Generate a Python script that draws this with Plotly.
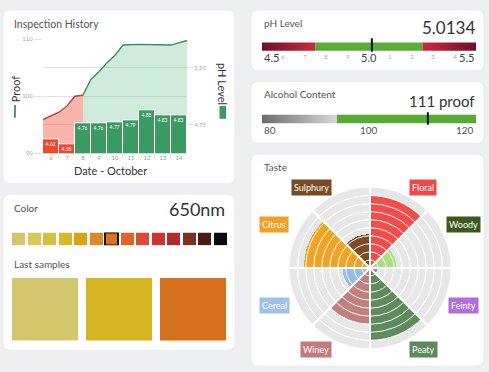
import plotly.graph_objects as go

W, H = 489, 372
FONT = "Lato"
BG = "#eeeff1"

# ---------------- data ----------------
days = [6, 7, 8, 9, 10, 11, 12, 13, 14]
ph_values = [4.62, 4.58, 4.76, 4.76, 4.77, 4.79, 4.88, 4.83, 4.83]
proof_days = [5.5, 6.0, 6.5, 7.0, 7.5, 8.0, 8.5, 9.0, 9.5, 10.0, 10.5, 11.5, 12.5, 13.5, 14.5]
proof_values = [95.9, 96.6, 97.2, 98.3, 100.0, 100.2, 103.0, 104.3, 105.9, 107.2, 109.0, 109.1, 109.0, 109.0, 109.8]
proof_ticks = [90, 100, 110]
ph_ticks = [4.75, 5.25]
ph_ok = [4.75, 5.25]
proof_ok_day = 8

ph_current = 5.0134
ph_scale = [4.5, 5.5]
ph_major = [4.5, 5.0, 5.5]
ph_minor = [4.6, 4.7, 4.8, 4.9, 5.1, 5.2, 5.3, 5.4]
ph_minor_text = ["6", "7", "8", "9", "1", "2", "3", "4"]

alc_current = 111
alc_scale = [80, 120]
alc_ok = 94
alc_ticks = [80, 100, 120]

swatch_colors = ["#d4c66c", "#d8c855", "#d6c043", "#d8b92c", "#dba21a", "#de8a2a",
                 "#d8741e", "#e2622a", "#d94c32", "#c93434", "#b12a30", "#7a3222",
                 "#4a1b10", "#0b0b0b"]
swatch_selected = 6
color_label = "650nm"
sample_colors = ["#d3c66c", "#d6b423", "#d5701f"]

taste_names = ["Floral", "Woody", "Feinty", "Peaty", "Winey", "Cereal", "Citrus", "Sulphury"]
taste_values = [9, 3.3, 1, 9, 7, 3.4, 8.2, 4.2]
taste_colors = ["#f44b4b", "#a9e07f", "#a46ee0", "#5f8a5c", "#c27f7f", "#94baf0", "#f1a324", "#7b4b22"]
label_colors = ["#f04848", "#3b5a1d", "#b06fe0", "#5b8a5b", "#c27a7a", "#9fc0ef", "#f0a022", "#7a4a22"]
label_offsets = [(53, -82), (93, -44), (93, 38), (53, 83), (-54, 83), (-96, 38), (-96, -44), (-59, -82)]

# ---------------- helpers ----------------
def px(x):
    return x / W

def py(y):
    return 1 - y / H

def rrect(x0, y0, x1, y1, r=8):
    rx, ry = r / W, r / H
    X0, X1, Yt, Yb = px(x0), px(x1), py(y0), py(y1)
    path = (f"M {X0+rx},{Yb} L {X1-rx},{Yb} Q {X1},{Yb} {X1},{Yb+ry} "
            f"L {X1},{Yt-ry} Q {X1},{Yt} {X1-rx},{Yt} L {X0+rx},{Yt} "
            f"Q {X0},{Yt} {X0},{Yt-ry} L {X0},{Yb+ry} Q {X0},{Yb} {X0+rx},{Yb} Z")
    return dict(type="path", path=path, xref="paper", yref="paper",
                fillcolor="white", line=dict(color="#e6e6e8", width=0.6), layer="below")

annotations = []

def ann(text, x, y, size, color="#555", xanchor="left", yanchor="middle", angle=0, **kw):
    d = dict(text=text, x=px(x), y=py(y), xref="paper", yref="paper", showarrow=False,
             font=dict(family=FONT, size=size, color=color), xanchor=xanchor,
             yanchor=yanchor, textangle=angle)
    d.update(kw)
    annotations.append(d)

fig = go.Figure()

# ---------------- Inspection history ----------------
red_x = [d for d in proof_days if d <= proof_ok_day]
red_y = [v for d, v in zip(proof_days, proof_values) if d <= proof_ok_day]
grn_x = [d for d in proof_days if d >= proof_ok_day]
grn_y = [v for d, v in zip(proof_days, proof_values) if d >= proof_ok_day]

fig.add_trace(go.Scatter(x=red_x, y=red_y, mode="lines", fill="tozeroy",
                         fillcolor="rgba(242,90,70,0.45)", line=dict(color="#b13c36", width=1.3),
                         xaxis="x", yaxis="y", hoverinfo="skip"))
fig.add_trace(go.Scatter(x=grn_x, y=grn_y, mode="lines", fill="tozeroy",
                         fillcolor="rgba(70,178,118,0.26)", line=dict(color="#3b8b5b", width=1.3),
                         xaxis="x", yaxis="y", hoverinfo="skip"))
bar_colors = ["#f1472e" if v < ph_ok[0] else "#3a9a61" for v in ph_values]
fig.add_trace(go.Bar(x=days, y=ph_values, marker=dict(color=bar_colors, line=dict(color="white", width=1)),
                     text=[f"{v:.2f}" for v in ph_values], textposition="inside",
                     insidetextanchor="end", textangle=0,
                     textfont=dict(family=FONT, size=5.5, color="white"),
                     xaxis="x", yaxis="y2", hoverinfo="skip"))

# ---------------- pH gauge ----------------
def gauge_piece(x0, x1, c0, c1, xa, ya):
    return go.Scatter(x=[x0, x1, x1, x0, x0], y=[0, 0, 1, 1, 0], mode="lines", fill="toself",
                      line=dict(width=0), fillgradient=dict(type="horizontal", colorscale=[[0, c0], [1, c1]]),
                      xaxis=xa, yaxis=ya, hoverinfo="skip")

fig.add_trace(gauge_piece(ph_scale[0], ph_ok[0], "#6e1028", "#c92c3e", "x3", "y3"))
fig.add_trace(gauge_piece(ph_ok[0], ph_ok[1], "#5aab3a", "#5aab3a", "x3", "y3"))
fig.add_trace(gauge_piece(ph_ok[1], ph_scale[1], "#cd2a40", "#6e1028", "x3", "y3"))
fig.add_trace(go.Scatter(x=[ph_current, ph_current], y=[-0.1, 1.5], mode="lines",
                         line=dict(color="#111", width=2), xaxis="x3", yaxis="y3", hoverinfo="skip"))

# ---------------- Alcohol gauge ----------------
fig.add_trace(gauge_piece(alc_scale[0], alc_ok, "#6b6b6b", "#d9d9d9", "x4", "y4"))
fig.add_trace(gauge_piece(alc_ok, alc_scale[1], "#5aab34", "#5aab34", "x4", "y4"))
fig.add_trace(go.Scatter(x=[alc_current, alc_current], y=[-0.2, 1.3], mode="lines",
                         line=dict(color="#111", width=2), xaxis="x4", yaxis="y4", hoverinfo="skip"))

# ---------------- Color swatches ----------------
lw = [2 if i == swatch_selected else 0 for i in range(len(swatch_colors))]
fig.add_trace(go.Bar(x=list(range(len(swatch_colors))), y=[1] * len(swatch_colors), width=0.86,
                     marker=dict(color=swatch_colors, line=dict(color="#111", width=lw)),
                     cliponaxis=False, xaxis="x5", yaxis="y5", hoverinfo="skip"))
fig.add_trace(go.Bar(x=list(range(len(sample_colors))), y=[1] * len(sample_colors), width=0.89,
                     marker=dict(color=sample_colors, line=dict(width=0)),
                     xaxis="x6", yaxis="y6", hoverinfo="skip"))

# ---------------- Taste polar ----------------
thetas = [22.5 + 45 * i for i in range(len(taste_names))]
fig.add_trace(go.Barpolar(r=taste_values, theta=thetas, width=[45] * len(thetas),
                          marker=dict(color=taste_colors, line=dict(width=0)),
                          subplot="polar", hoverinfo="skip"))
fig.add_trace(go.Scatterpolar(r=[0], theta=[0], mode="markers", marker=dict(opacity=0),
                              subplot="polar2", hoverinfo="skip"))

# ---------------- layout ----------------
shapes = [rrect(3, 6, 235, 183), rrect(251, 6, 484, 68), rrect(251, 79, 484, 142),
          rrect(3, 194, 235, 353), rrect(251, 153, 484, 369)]
shapes.append(dict(type="line", xref="paper", yref="paper", x0=px(15), x1=px(15), y0=py(103), y1=py(116),
                   line=dict(color="#2e7d4f", width=1.6)))
shapes.append(dict(type="rect", xref="paper", yref="paper", x0=px(219.5), x1=px(226), y0=py(104), y1=py(117),
                   fillcolor="#3a9a61", line=dict(width=0)))

ann("Inspection History", 12, 20, 10.5)
ann("Proof", 15, 87, 11, "#333", xanchor="center", angle=-90)
ann("pH Level", 222.5, 81, 11, "#333", xanchor="center", angle=90)
ann("Date - October", 110, 170, 11, "#333", xanchor="center")

ann("pH Level", 262, 19, 10)
ann(f"{ph_current}", 477, 24, 17, "#333", xanchor="right")
ann("Alcohol Content", 262, 92, 10)
ann(f"{alc_current} proof", 477, 99, 15, "#333", xanchor="right")
ann("Color", 12, 208, 10)
ann(color_label, 227, 209, 18, "#333", xanchor="right")
ann("Last samples", 12, 265, 10)
ann("Taste", 262, 166, 10)

for v in ph_major:
    xa = "left" if v == ph_scale[0] else ("right" if v == ph_scale[1] else "center")
    annotations.append(dict(text=f"{v:.1f}", x=v, y=py(54.5), xref="x3", yref="paper", showarrow=False,
                            xanchor=xa, yanchor="middle", font=dict(family=FONT, size=11, color="#444")))
for v, t in zip(ph_minor, ph_minor_text):
    annotations.append(dict(text=t, x=v, y=py(54), xref="x3", yref="paper", showarrow=False,
                            xanchor="center", yanchor="middle", font=dict(family=FONT, size=6.5, color="#aaa")))
for v in alc_ticks:
    xa = "left" if v == alc_scale[0] else ("right" if v == alc_scale[1] else "center")
    annotations.append(dict(text=f"{v}", x=v, y=py(128.5), xref="x4", yref="paper", showarrow=False,
                            xanchor=xa, yanchor="middle", font=dict(family=FONT, size=10, color="#555")))

cx, cy = 370, 269
for name, col, (dx, dy) in zip(taste_names, label_colors, label_offsets):
    ann(name, cx + dx, cy + dy, 9, "white", xanchor="center", bgcolor=col, borderpad=2)

axis_hidden = dict(visible=False, fixedrange=True)
grid_c = "#e2e2e2"
polar_common = dict(
    domain=dict(x=[px(288), px(452)], y=[py(351), py(187)]),
    radialaxis=dict(range=[0, 10], dtick=1, showticklabels=False, ticks="", showline=False,
                    gridcolor="white", gridwidth=1.2),
    angularaxis=dict(direction="clockwise", rotation=90, tickvals=[0, 45, 90, 135, 180, 225, 270, 315],
                     showticklabels=False, ticks="", showline=False, gridcolor="white", gridwidth=1.6),
)

fig.update_layout(
    width=W, height=H, margin=dict(l=0, r=0, t=0, b=0),
    paper_bgcolor=BG, plot_bgcolor="rgba(0,0,0,0)", showlegend=False,
    font=dict(family=FONT), bargap=0,
    xaxis=dict(domain=[px(43), px(187)], range=[5.5, 14.5], tickvals=days, showgrid=False,
               zeroline=False, showline=False, ticks="", tickfont=dict(size=6, color="#9a9a9a"),
               fixedrange=True),
    yaxis=dict(domain=[py(152), py(36)], range=[90, 110], tickvals=proof_ticks, gridcolor=grid_c,
               gridwidth=1, zeroline=False, ticks="outside", ticklen=8, tickcolor=grid_c,
               tickfont=dict(size=6, color="#aaa"), fixedrange=True),
    yaxis2=dict(overlaying="y", side="right", range=[4.5, 5.5], tickvals=ph_ticks, gridcolor=grid_c,
                zeroline=False, ticks="outside", ticklen=5, tickcolor=grid_c,
                tickfont=dict(size=6, color="#aaa"), fixedrange=True),
    xaxis3=dict(domain=[px(262), px(476)], range=ph_scale, anchor="y3", **axis_hidden),
    yaxis3=dict(domain=[py(49), py(34)], range=[-0.15, 1.6], anchor="x3", **axis_hidden),
    xaxis4=dict(domain=[px(262), px(476)], range=alc_scale, anchor="y4", **axis_hidden),
    yaxis4=dict(domain=[py(124), py(109)], range=[-0.3, 1.45], anchor="x4", **axis_hidden),
    xaxis5=dict(domain=[px(11), px(228)], range=[-0.5, 13.5], anchor="y5", **axis_hidden),
    yaxis5=dict(domain=[py(246), py(233)], range=[0, 1], anchor="x5", **axis_hidden),
    xaxis6=dict(domain=[px(8), px(230)], range=[-0.5, 2.5], anchor="y6", **axis_hidden),
    yaxis6=dict(domain=[py(343), py(279)], range=[0, 1], anchor="x6", **axis_hidden),
    polar=dict(bgcolor="#e7e7e7", **polar_common),
    polar2=dict(bgcolor="rgba(0,0,0,0)", **polar_common),
    shapes=shapes, annotations=annotations,
)

fig.write_html("out.html", config={"displayModeBar": False},
               post_script="document.body.style.margin='0px';document.body.style.padding='0px';")
